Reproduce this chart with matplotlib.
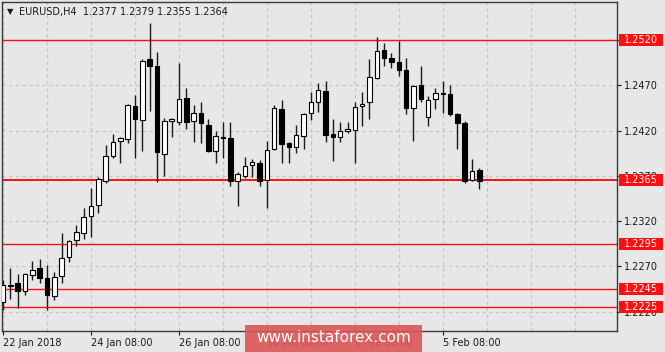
import matplotlib
matplotlib.use("Agg")
import matplotlib.pyplot as plt
from matplotlib.patches import Rectangle
import matplotlib.transforms as mtransforms
import numpy as np

# EURUSD H4 candles (index 0 = 22 Jan 2018 08:00)
opens = [1.2231, 1.2249, 1.2252, 1.2243, 1.2261, 1.2268, 1.2257, 1.2237, 1.2260, 1.2281,
         1.2299, 1.2307, 1.2326, 1.2338, 1.2364, 1.2392, 1.2409, 1.2411, 1.2447, 1.2432,
         1.2499, 1.2491, 1.2394, 1.2431, 1.2430, 1.2456, 1.2431, 1.2439, 1.2426, 1.2398,
         1.2413, 1.2412, 1.2364, 1.2370, 1.2382, 1.2384, 1.2366, 1.2400, 1.2444, 1.2406,
         1.2402, 1.2414, 1.2439, 1.2452, 1.2464, 1.2416, 1.2413, 1.2419, 1.2421, 1.2447,
         1.2451, 1.2478, 1.2509, 1.2500, 1.2496, 1.2487, 1.2445, 1.2470, 1.2435, 1.2455,
         1.2462, 1.2460, 1.2438, 1.2428, 1.2365, 1.2377]
highs = [1.2255, 1.2268, 1.2262, 1.2263, 1.2276, 1.2278, 1.2272, 1.2264, 1.2307, 1.2299,
         1.2316, 1.2335, 1.2357, 1.2369, 1.2404, 1.2416, 1.2413, 1.2449, 1.2459, 1.2499,
         1.2539, 1.2507, 1.2434, 1.2434, 1.2495, 1.2467, 1.2448, 1.2451, 1.2433, 1.2420,
         1.2430, 1.2430, 1.2374, 1.2391, 1.2389, 1.2388, 1.2409, 1.2448, 1.2454, 1.2407,
         1.2426, 1.2439, 1.2463, 1.2473, 1.2475, 1.2433, 1.2430, 1.2430, 1.2451, 1.2463,
         1.2499, 1.2523, 1.2517, 1.2506, 1.2519, 1.2500, 1.2470, 1.2491, 1.2458, 1.2467,
         1.2475, 1.2470, 1.2439, 1.2431, 1.2389, 1.2379]
lows = [1.2222, 1.2234, 1.2224, 1.2239, 1.2255, 1.2252, 1.2222, 1.2233, 1.2252, 1.2275,
        1.2293, 1.2300, 1.2303, 1.2329, 1.2362, 1.2390, 1.2384, 1.2406, 1.2390, 1.2398,
        1.2442, 1.2363, 1.2370, 1.2413, 1.2426, 1.2422, 1.2407, 1.2406, 1.2396, 1.2384,
        1.2390, 1.2359, 1.2337, 1.2368, 1.2369, 1.2359, 1.2335, 1.2399, 1.2384, 1.2384,
        1.2395, 1.2400, 1.2432, 1.2441, 1.2407, 1.2386, 1.2407, 1.2417, 1.2384, 1.2425,
        1.2433, 1.2477, 1.2491, 1.2489, 1.2480, 1.2438, 1.2409, 1.2452, 1.2425, 1.2444,
        1.2439, 1.2436, 1.2400, 1.2362, 1.2364, 1.2355]
closes = [1.2250, 1.2250, 1.2243, 1.2262, 1.2266, 1.2257, 1.2239, 1.2258, 1.2279, 1.2298,
          1.2308, 1.2325, 1.2337, 1.2367, 1.2392, 1.2407, 1.2412, 1.2448, 1.2433, 1.2497,
          1.2491, 1.2396, 1.2431, 1.2433, 1.2455, 1.2430, 1.2439, 1.2428, 1.2398, 1.2414,
          1.2412, 1.2364, 1.2372, 1.2381, 1.2385, 1.2364, 1.2399, 1.2445, 1.2405, 1.2402,
          1.2415, 1.2438, 1.2451, 1.2465, 1.2415, 1.2413, 1.2420, 1.2422, 1.2446, 1.2449,
          1.2479, 1.2508, 1.2500, 1.2496, 1.2487, 1.2445, 1.2469, 1.2455, 1.2454, 1.2462,
          1.2460, 1.2438, 1.2428, 1.2364, 1.2375, 1.2364]

levels = [1.2520, 1.2365, 1.2295, 1.2245, 1.2225]
grid_prices = [1.2220, 1.2270, 1.2320, 1.2370, 1.2420, 1.2470, 1.2520]
tick_pos = [0, 12, 24, 36, 48, 60]
tick_labels = ["22 Jan 2018", "24 Jan 08:00", "26 Jan 08:00", "30 Jan 08:00",
               "1 Feb 08:00", "5 Feb 08:00"]

BG = "#e7e7e7"
W, H = 665, 352

fig = plt.figure(figsize=(W / 100, H / 100), dpi=100, facecolor=BG)
ax = fig.add_axes([2 / W, 1 - 331 / H, 615 / W, 329 / H], facecolor=BG)

o = np.array(opens)
hi = np.array(highs)
lo = np.array(lows)
c = np.array(closes)
x = np.arange(len(o))
bull = c >= o

# grid
for p in grid_prices:
    ax.axhline(p, color="#c2c2c2", lw=0.8, ls=(0, (3, 3)), zorder=0)
for xv in range(0, 90, 6):
    ax.axvline(xv, color="#c2c2c2", lw=0.8, ls=(0, (3, 3)), zorder=0)

# levels
for lv in levels:
    ax.axhline(lv, color="#ff1010", lw=1.4 if lv == 1.2365 else 1.0, zorder=1)

# candles
ax.vlines(x, lo, hi, color="#1a1a1a", lw=1.0, zorder=2)
body_bot = np.minimum(o, c)
body_h = np.maximum(np.abs(c - o), 0.00003)
ax.bar(x, body_h, bottom=body_bot, width=0.62,
       color=np.where(bull, "white", "black"), edgecolor="black", lw=0.8, zorder=3)

ax.set_xlim(-0.14, 83.77)
ax.set_ylim(1.21988, 1.25619)

# axes styling
for s in ax.spines.values():
    s.set_color("#3a3a3a")
    s.set_linewidth(1.0)
ax.yaxis.tick_right()
ax.set_yticks(grid_prices)
ax.set_yticklabels([f"{p:.4f}" for p in grid_prices])
ax.set_xticks(tick_pos)
ax.set_xticklabels(tick_labels, ha="left")
ax.tick_params(axis="both", labelsize=7, colors="#1a1a1a", length=3, width=0.8, pad=2)

# price boxes for the levels
trans = mtransforms.blended_transform_factory(ax.transAxes, ax.transData)
bh = 12 * (1.25619 - 1.21988) / 329
for lv in levels:
    ax.add_patch(Rectangle((1.0035, lv - bh / 2), 0.0715, bh, transform=trans,
                           facecolor="#ff1010", edgecolor="none", clip_on=False, zorder=5))
    ax.text(1.039, lv, f"{lv:.4f}", transform=trans, ha="center", va="center",
            fontsize=7, color="white", clip_on=False, zorder=6)

# header
fig.text(7 / W, 1 - 12 / H, "▼", fontsize=6, color="#1a1a1a", va="center")
fig.text(19 / W, 1 - 12 / H,
         f"EURUSD,H4  {opens[-1]:.4f} {highs[-1]:.4f} {lows[-1]:.4f} {closes[-1]:.4f}",
         fontsize=7, color="#1a1a1a", va="center")

# watermark
fig.patches.append(Rectangle((245 / W, 0), 177 / W, 27 / H, transform=fig.transFigure,
                             facecolor="#dc5656", alpha=0.9, edgecolor="none", zorder=10))
fig.text(333.5 / W, 1 - 338 / H, "www.instaforex.com", fontsize=11, color="white",
         ha="center", va="center", zorder=11)

fig.savefig("out.png", dpi=100, facecolor=BG)
